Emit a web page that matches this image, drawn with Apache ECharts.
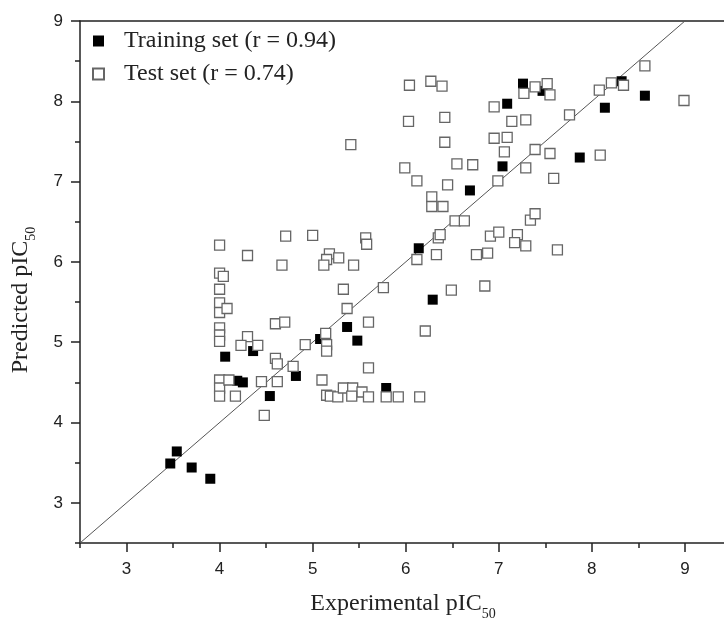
<!DOCTYPE html>
<html>
<head>
<meta charset="utf-8">
<script src="https://cdn.jsdelivr.net/npm/echarts@6/dist/echarts.min.js"></script>
<style>html,body{margin:0;padding:0;background:#fff}#c{width:724px;height:626px}</style>
</head>
<body>
<div id="c"></div>
<script>
var trainingSet = [
  [3.47,3.49],[3.54,3.64],[3.70,3.44],[3.90,3.30],
  [4.06,4.82],[4.36,4.89],[4.19,4.52],[4.25,4.50],[4.82,4.58],[4.54,4.33],[5.08,5.04],
  [5.37,5.19],[5.48,5.02],[5.79,4.43],[6.14,6.17],[6.29,5.53],
  [6.69,6.89],[7.04,7.19],[7.09,7.97],[7.26,8.22],[7.47,8.13],
  [7.87,7.30],[8.14,7.92],[8.32,8.25],[8.57,8.07]
];
var testSet = [
  [4.00,6.21],[4.71,6.32],[5.00,6.33],[4.30,6.08],[4.67,5.96],[4.00,5.86],[4.04,5.82],
  [4.00,5.66],[4.00,5.49],[4.00,5.37],[4.08,5.42],[4.00,5.18],[4.00,5.09],[4.00,5.01],
  [4.30,5.07],[4.23,4.96],[4.41,4.96],[4.60,4.80],[4.62,4.73],[4.79,4.70],[4.92,4.97],
  [5.14,5.11],[5.15,4.97],[5.15,4.89],[4.60,5.23],[4.70,5.25],[5.18,6.10],[5.15,6.03],
  [5.12,5.96],[5.28,6.05],[5.44,5.96],[5.57,6.30],[5.58,6.22],[5.33,5.66],[5.37,5.42],
  [5.60,5.25],[5.60,4.68],[5.10,4.53],[4.00,4.53],[4.00,4.43],[4.00,4.33],[4.10,4.53],
  [4.17,4.33],[4.45,4.51],[4.62,4.51],[4.48,4.09],[5.15,4.34],[5.19,4.33],[5.27,4.32],
  [5.33,4.43],[5.43,4.43],[5.53,4.38],[5.42,4.33],[5.60,4.32],[5.79,4.32],[5.92,4.32],
  [6.15,4.32],[5.76,5.68],[6.12,6.03],[6.33,6.09],[6.35,6.30],[6.37,6.34],[6.49,5.65],
  [6.21,5.14],[6.04,8.20],[6.27,8.25],[6.39,8.19],[6.03,7.75],[6.42,7.80],[6.42,7.49],
  [5.99,7.17],[6.12,7.01],[6.55,7.22],[6.72,7.21],[6.45,6.96],[6.28,6.81],[6.28,6.69],
  [6.40,6.69],[6.53,6.51],[6.63,6.51],[6.76,6.09],[6.88,6.11],[6.91,6.32],[7.00,6.37],
  [7.20,6.34],[7.17,6.24],[7.29,6.20],[7.34,6.52],[7.39,6.60],[6.85,5.70],[6.99,7.01],
  [6.95,7.54],[7.09,7.55],[7.06,7.37],[7.14,7.75],[7.29,7.77],[6.95,7.93],[7.29,7.17],
  [7.39,7.40],[7.55,7.35],[7.59,7.04],[7.27,8.10],[7.39,8.18],[7.52,8.22],[7.55,8.08],
  [7.63,6.15],[7.76,7.83],[8.08,8.14],[8.21,8.23],[8.34,8.20],[8.57,8.44],[8.99,8.01],
  [8.09,7.33],[5.41,7.46]
];
var identityLine = [[2.5,2.5],[9.5,9.5]];
var xMajorTicks = [3,4,5,6,7,8,9];
var xMinorTicks = [2.5,3.5,4.5,5.5,6.5,7.5,8.5];
var yMajorTicks = [3,4,5,6,7,8,9];
var yMinorTicks = [2.5,3.5,4.5,5.5,6.5,7.5,8.5];
var trainingName = 'Training set (r = 0.94)';
var testName = 'Test set (r = 0.74)';

var chart = echarts.init(document.getElementById('c'), null, {renderer:'canvas'});
var axisColor = '#222';
var serif = 'Liberation Serif, Times New Roman, serif';
var sans = 'Liberation Sans, Arial, sans-serif';
var nameRich = {
  sub:{fontFamily:serif, fontSize:14, color:'#222', padding:[20,0,0,0]}
};
function baseX(extra){
  return Object.assign({
    type:'value', min:2.5, max:9.42, interval:0.5, position:'bottom',
    splitLine:{show:false},
    axisLine:{show:true, onZero:false, lineStyle:{color:axisColor, width:1.5}}
  }, extra);
}
function baseY(extra){
  return Object.assign({
    type:'value', min:2.5, max:9, interval:0.5, position:'left',
    splitLine:{show:false},
    axisLine:{show:true, onZero:false, lineStyle:{color:axisColor, width:1.5}}
  }, extra);
}
var option = {
  animation:false,
  backgroundColor:'#fff',
  grid:{left:80, top:21, right:0, bottom:83, show:false},
  legend:{
    orient:'vertical', left:87, top:24, itemWidth:11, itemHeight:11, itemGap:9,
    data:[trainingName, testName],
    textStyle:{fontFamily:serif, fontSize:24, color:'#222', padding:[0,0,0,15]}
  },
  xAxis:[
    baseX({
      axisTick:{show:true, length:9, customValues:xMajorTicks, lineStyle:{color:axisColor, width:1.5}},
      axisLabel:{show:true, margin:18, customValues:xMajorTicks, formatter:function(v){return String(v);}, fontFamily:sans, fontSize:17, color:'#222'},
      name:'Experimental pIC{sub|50}', nameLocation:'middle', nameGap:44,
      nameTextStyle:{fontFamily:serif, fontSize:24, color:'#222', rich:nameRich, padding:[0,0,0,2]}
    }),
    baseX({
      axisLine:{show:false},
      axisTick:{show:true, length:5, customValues:xMinorTicks, lineStyle:{color:axisColor, width:1.5}},
      axisLabel:{show:false}
    }),
    baseX({
      position:'top',
      axisTick:{show:false},
      axisLabel:{show:false}
    })
  ],
  yAxis:[
    baseY({
      axisTick:{show:true, length:9, customValues:yMajorTicks, lineStyle:{color:axisColor, width:1.5}},
      axisLabel:{show:true, margin:17, customValues:yMajorTicks, formatter:function(v){return String(v);}, fontFamily:sans, fontSize:17, color:'#222'},
      name:'Predicted pIC{sub|50}', nameLocation:'middle', nameGap:42, nameRotate:90,
      nameTextStyle:{fontFamily:serif, fontSize:24, color:'#222', rich:nameRich, padding:[0,36,0,0]}
    }),
    baseY({
      axisLine:{show:false},
      axisTick:{show:true, length:5, customValues:yMinorTicks, lineStyle:{color:axisColor, width:1.5}},
      axisLabel:{show:false}
    })
  ],
  series:[
    {type:'line', data:identityLine, showSymbol:false, symbol:'none', clip:true, silent:true,
     lineStyle:{color:'#555', width:1}, z:1},
    {name:trainingName, type:'scatter', data:trainingSet, symbol:'rect', symbolSize:10,
     itemStyle:{color:'#000', opacity:1}, z:2},
    {name:testName, type:'scatter', data:testSet, symbol:'rect', symbolSize:10,
     itemStyle:{color:'#fff', borderColor:'#666', borderWidth:1.3, opacity:1}, z:3}
  ]
};
chart.setOption(option);
</script>
</body>
</html>
